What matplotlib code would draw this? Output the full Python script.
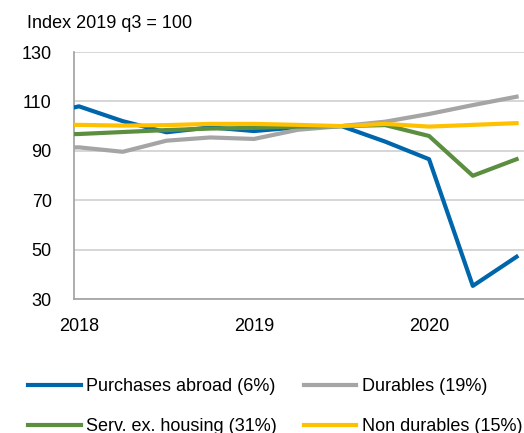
import matplotlib.pyplot as plt
import numpy as np

plt.rcParams['font.family'] = ['Liberation Sans', 'DejaVu Sans']

# quarters from 2017 q4 to 2020 q3, 2018 q1 = 0
quarters = np.arange(-1, 11)
purchases_abroad = [104, 108, 102, 97.5, 99.5, 98, 99.5, 100, 93.7, 86.6, 35.3, 47.1]
durables = [91, 91.4, 89.6, 94.1, 95.4, 94.8, 98.5, 100, 101.8, 104.9, 108.5, 111.9]
serv_ex_housing = [96.5, 96.8, 97.6, 98.4, 99.0, 99.3, 99.8, 100, 100.4, 96.0, 79.9, 86.6]
non_durables = [100.5, 100.5, 100.2, 100.4, 100.9, 100.9, 100.5, 100, 100.9, 99.8, 100.5, 101.2]

year_ticks = [0, 4, 8]
year_labels = ["2018", "2019", "2020"]

fig = plt.figure(figsize=(5.24, 4.33), dpi=100)
ax = fig.add_axes([74 / 524, 1 - 299 / 433, 1 - 74 / 524, (299 - 52) / 433])

l1, = ax.plot(quarters, purchases_abroad, color="#0066ab", lw=3, label="Purchases abroad (6%)", zorder=3)
l2, = ax.plot(quarters, durables, color="#a5a5a5", lw=3, label="Durables (19%)", zorder=3)
l3, = ax.plot(quarters, serv_ex_housing, color="#5b8f3f", lw=3, label="Serv. ex. housing (31%)", zorder=3)
l4, = ax.plot(quarters, non_durables, color="#ffc000", lw=3, label="Non durables (15%)", zorder=3)

ax.set_xlim(-0.114, 10.17)
ax.set_ylim(30, 130)
ax.set_yticks([30, 50, 70, 90, 110, 130])
ax.set_xticks(year_ticks, year_labels)
ax.tick_params(length=0, labelsize=13, colors="black")
ax.tick_params(axis="x", pad=14)
ax.tick_params(axis="y", pad=16)
ax.grid(axis="y", color="#d0d0d0", lw=1.2)
ax.set_axisbelow(True)
for side in ["top", "right"]:
    ax.spines[side].set_visible(False)
for side in ["left", "bottom"]:
    ax.spines[side].set_color("#a0a0a0")
    ax.spines[side].set_linewidth(1.2)

fig.text(27 / 524, 1 - 23 / 433, "Index 2019 q3 = 100", fontsize=13, va="center", ha="left")

# column-wise fill: col 1 = abroad, services; col 2 = durables, non durables
fig.legend([l1, l3, l2, l4], [l1.get_label(), l3.get_label(), l2.get_label(), l4.get_label()],
           loc="upper left", bbox_to_anchor=(12 / 524, 1 - 362 / 433), ncol=2, frameon=False,
           fontsize=13, handlelength=2.9, handletextpad=0.3, columnspacing=1.5,
           labelspacing=1.28)

fig.savefig("out.png", dpi=100)
